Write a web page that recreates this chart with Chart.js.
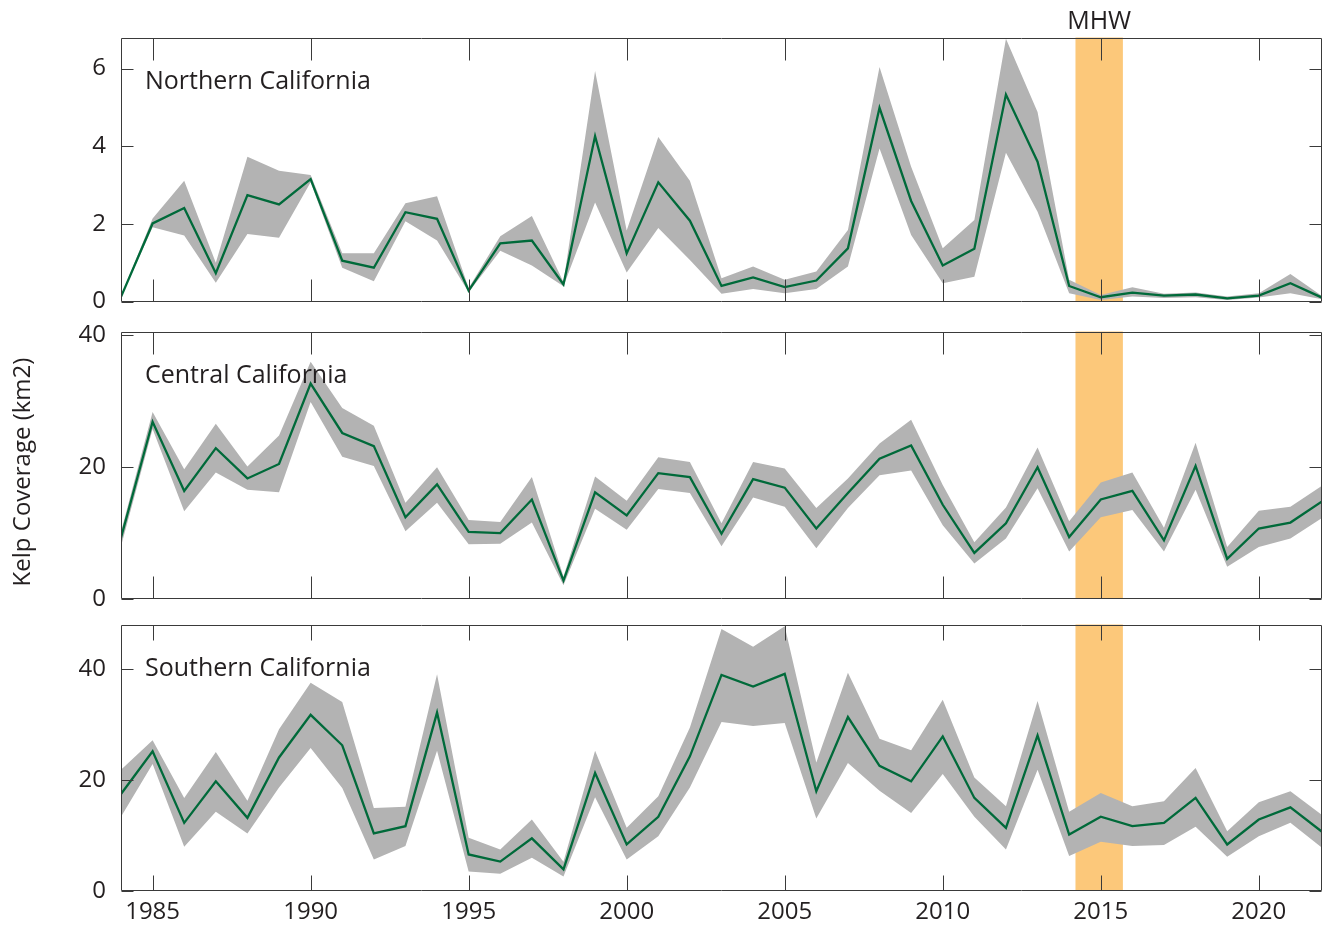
<!DOCTYPE html>
<html>
<head>
<meta charset="utf-8">
<script src="https://cdn.jsdelivr.net/npm/chart.js@4.4.0/dist/chart.umd.min.js"></script>
<style>
  body { margin: 0; background: #fff; }
  #wrap { position: relative; width: 1323px; height: 930px; }
  #wrap canvas { position: absolute; left: 0; top: 0; }
</style>
</head>
<body>
<div id="wrap">
  <canvas id="north_chart" width="1323" height="930"></canvas>
  <canvas id="central_chart" width="1323" height="930"></canvas>
  <canvas id="south_chart" width="1323" height="930"></canvas>
</div>
<script>
// years 1984 - 2022
const years = [1984,1985,1986,1987,1988,1989,1990,1991,1992,1993,1994,1995,1996,1997,1998,1999,2000,2001,2002,2003,
               2004,2005,2006,2007,2008,2009,2010,2011,2012,2013,2014,2015,2016,2017,2018,2019,2020,2021,2022];

const northMean = [0.12,2.01,2.41,0.73,2.74,2.5,3.15,1.05,0.87,2.3,2.13,0.28,1.5,1.57,0.44,4.26,1.24,3.07,2.08,0.4,
                   0.62,0.37,0.54,1.37,4.99,2.59,0.93,1.36,5.33,3.6,0.4,0.11,0.23,0.15,0.18,0.08,0.15,0.47,0.1];
const northHigh = [0.14,2.14,3.11,1.0,3.73,3.37,3.26,1.24,1.24,2.53,2.71,0.35,1.68,2.2,0.5,5.94,1.83,4.24,3.11,0.6,
                   0.9,0.56,0.77,1.84,6.04,3.47,1.37,2.1,6.77,4.88,0.56,0.17,0.37,0.2,0.23,0.13,0.21,0.71,0.14];
const northLow  = [0.1,1.91,1.7,0.48,1.74,1.64,3.07,0.87,0.52,2.07,1.57,0.24,1.31,0.93,0.39,2.55,0.75,1.89,1.07,0.2,
                   0.32,0.21,0.32,0.9,3.94,1.71,0.47,0.64,3.83,2.31,0.21,0.04,0.13,0.09,0.11,0.04,0.1,0.21,0.06];

const centralMean = [9.3,26.9,16.4,22.9,18.3,20.5,32.7,25.2,23.2,12.4,17.4,10.2,10.0,15.1,2.8,16.2,12.7,19.1,18.5,9.9,
                     18.2,16.9,10.7,16.1,21.3,23.3,14.3,7.0,11.5,20.0,9.4,15.1,16.4,8.9,20.2,6.1,10.7,11.6,14.8];
const centralHigh = [10.2,28.4,19.7,26.6,20.1,24.8,36.0,29.0,26.3,14.6,20.0,12.0,11.7,18.5,3.4,18.6,14.9,21.5,20.8,11.5,
                     20.8,19.8,13.8,18.3,23.6,27.2,17.3,8.6,13.9,23.0,11.8,17.7,19.2,10.8,23.7,7.9,13.4,14.0,17.2];
const centralLow  = [8.0,25.8,13.3,19.2,16.6,16.2,29.9,21.6,20.2,10.3,14.6,8.3,8.4,11.6,2.1,13.7,10.5,16.7,16.1,8.0,
                     15.4,14.0,7.7,13.8,18.8,19.5,11.2,5.4,9.2,16.8,7.2,12.4,13.5,7.2,16.6,4.9,7.9,9.2,12.3];

const southMean = [17.5,25.2,12.3,19.8,13.2,24.1,31.8,26.3,10.4,11.7,32.2,6.6,5.3,9.5,3.9,21.3,8.4,13.4,24.3,39.0,
                   36.9,39.2,18.0,31.4,22.6,19.8,27.9,16.8,11.4,28.1,10.2,13.4,11.7,12.3,16.8,8.4,12.9,15.1,10.7];
const southHigh = [21.9,27.2,16.8,25.1,16.3,29.2,37.6,34.1,15.0,15.2,39.1,9.6,7.5,12.9,5.3,25.3,11.4,17.1,29.5,47.3,
                   44.1,47.8,23.2,39.4,27.5,25.4,34.5,20.5,15.3,34.3,14.3,17.7,15.3,16.2,22.2,10.8,16.0,18.0,13.7];
const southLow  = [13.4,22.9,8.0,14.3,10.4,18.7,25.8,18.6,5.7,8.1,25.3,3.5,3.1,6.0,2.6,16.9,5.7,9.9,18.7,30.5,
                   29.8,30.3,13.1,23.1,18.1,14.1,21.1,13.4,7.5,21.9,6.3,8.9,8.1,8.3,11.6,6.2,9.9,12.3,7.8];

const xTicks = [1985,1990,1995,2000,2005,2010,2015,2020];
const northTicks = [0,2,4,6];
const centralTicks = [0,20,40];
const southTicks = [0,20,40];

const regionNames = ['Northern California','Central California','Southern California'];
const mhwStart = 2014.2;
const mhwEnd = 2015.7;
const mhwLabel = 'MHW';
const yTitle = 'Kelp Coverage (km2)';

const FONT = "'Open Sans', 'Noto Sans', sans-serif";
const INK = '#231f20';
const FRAME = '#3a3a3a';

// petit plugin : bande MHW, cadre, graduations internes, nom de région
function panelPlugin(name, tickLen, showMhwLabel, showYTitle) {
    return {
        id: 'panel_' + name,
        beforeDatasetsDraw(chart) {
            const ctx = chart.ctx, a = chart.chartArea, x = chart.scales.x;
            const x0 = x.getPixelForValue(mhwStart), x1 = x.getPixelForValue(mhwEnd);
            ctx.save();
            ctx.fillStyle = '#fcc87a';
            ctx.fillRect(x0, a.top, x1 - x0, a.bottom - a.top);
            ctx.restore();
        },
        afterDatasetsDraw(chart) {
            const ctx = chart.ctx, a = chart.chartArea;
            const xs = chart.scales.x, ys = chart.scales.y;
            ctx.save();
            ctx.strokeStyle = FRAME;
            ctx.lineWidth = 1;
            const L = Math.round(a.left) + 0.5, R = Math.round(a.right) - 0.5;
            const T = Math.round(a.top) + 0.5, B = Math.round(a.bottom) - 0.5;
            ctx.beginPath();
            ctx.rect(L, T, R - L, B - T);
            xs.ticks.forEach(t => {
                const px = Math.round(xs.getPixelForValue(t.value)) + 0.5;
                ctx.moveTo(px, T); ctx.lineTo(px, T + tickLen);
                ctx.moveTo(px, B); ctx.lineTo(px, B - tickLen);
            });
            ys.ticks.forEach(t => {
                const py = Math.round(ys.getPixelForValue(t.value)) + 0.5;
                ctx.moveTo(L, py); ctx.lineTo(L + 12, py);
                ctx.moveTo(R, py); ctx.lineTo(R - 12, py);
            });
            ctx.stroke();
            ctx.restore();
        },
        afterDraw(chart) {
            const ctx = chart.ctx, a = chart.chartArea;
            ctx.save();
            ctx.fillStyle = INK;
            ctx.font = '25px ' + FONT;
            ctx.textBaseline = 'alphabetic';
            ctx.textAlign = 'left';
            ctx.fillText(name, 145, a.top + 51);
            if (showMhwLabel) {
                const xs = chart.scales.x;
                ctx.textAlign = 'center';
                ctx.fillText(mhwLabel, (xs.getPixelForValue(mhwStart) + xs.getPixelForValue(mhwEnd)) / 2, 29);
            }
            if (showYTitle) {
                ctx.translate(23, 472);
                ctx.rotate(-Math.PI / 2);
                ctx.font = '24px ' + FONT;
                ctx.textAlign = 'center';
                ctx.textBaseline = 'middle';
                ctx.fillText(yTitle, 0, 0);
            }
            ctx.restore();
        }
    };
}

function createChart(canvas, name, mean, high, low, yTickValues, yMax, top, bottom, isLast, extra) {
    const pts = arr => years.map((yr, i) => ({ x: yr, y: arr[i] }));
    return new Chart(canvas, {
        type: 'line',
        data: {
            datasets: [
                { data: pts(mean), borderColor: '#006a3a', borderWidth: 2.3, pointRadius: 0, fill: false, tension: 0 },
                { data: pts(high), borderWidth: 0, borderColor: 'rgba(0,0,0,0)', pointRadius: 0,
                  backgroundColor: '#b3b3b3', fill: '+1', tension: 0 },
                { data: pts(low), borderWidth: 0, borderColor: 'rgba(0,0,0,0)', pointRadius: 0, fill: false, tension: 0 }
            ]
        },
        options: {
            responsive: false,
            animation: false,
            events: [],
            layout: { padding: { top: top, bottom: isLast ? 0 : 930 - bottom, left: 0, right: 1 } },
            plugins: { legend: { display: false }, tooltip: { enabled: false } },
            scales: {
                x: {
                    type: 'linear', min: 1984, max: 2022,
                    grid: { display: false, drawTicks: false }, border: { display: false },
                    afterBuildTicks: s => { s.ticks = xTicks.map(v => ({ value: v })); },
                    afterFit: s => { s.height = isLast ? 930 - bottom : 0; },
                    ticks: { display: isLast, color: INK, font: { family: FONT, size: 24 }, padding: 7, maxRotation: 0,
                             autoSkip: false, callback: v => String(v) }
                },
                y: {
                    min: 0, max: yMax,
                    grid: { display: false, drawTicks: false }, border: { display: false },
                    afterBuildTicks: s => { s.ticks = yTickValues.map(v => ({ value: v })); },
                    afterFit: s => { s.width = 121; },
                    ticks: { color: INK, font: { family: FONT, size: 24 }, padding: 15, callback: v => String(v) }
                }
            }
        },
        plugins: [panelPlugin(name, isLast ? 15 : 22, extra === 'mhw', extra === 'ytitle')]
    });
}

createChart(document.getElementById('north_chart'), regionNames[0], northMean, northHigh, northLow, northTicks, 6.8, 37.5, 301.5, false, 'mhw');
createChart(document.getElementById('central_chart'), regionNames[1], centralMean, centralHigh, centralLow, centralTicks, 40.6, 331.5, 599, false, 'ytitle');
createChart(document.getElementById('south_chart'), regionNames[2], southMean, southHigh, southLow, southTicks, 48.1, 624.5, 891, true, null);
</script>
</body>
</html>
